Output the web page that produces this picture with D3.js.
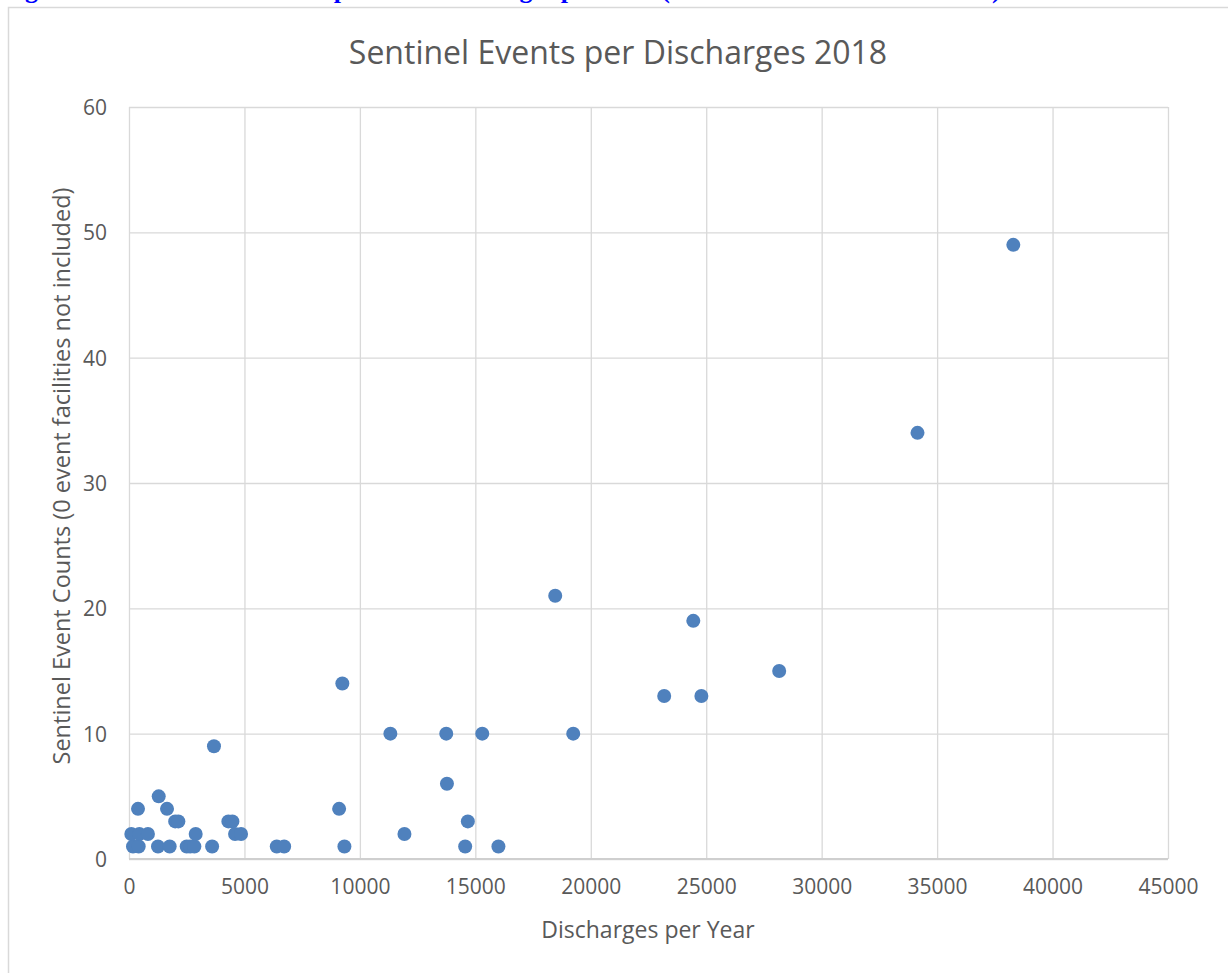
<!DOCTYPE html>
<html lang="en">
<head>
    <meta charset="UTF-8">
    <title>Sentinel Events per Discharges 2018</title>
    <script src="https://d3js.org/d3.v7.min.js"></script>
    <style>
        body {
            margin: 0;
            background-color: #ffffff;
            font-family: "Open Sans", sans-serif;
        }

        svg {
            display: block;
        }

        .grid line {
            stroke: #d9d9d9;
            stroke-width: 1.3;
        }

        .grid path {
            display: none;
        }

        .tick text {
            fill: #595959;
            font-size: 21px;
            font-family: "Open Sans", sans-serif;
        }
    </style>
</head>
<body>

<svg width="1228" height="973"></svg>

<script>
    // Data
    const discharges = [
        173, 420, 1256, 1762, 2499, 2650, 2831, 3600, 6400, 6720, 9330, 14560, 16000,
        100, 450, 820, 2888, 4593, 4853, 11930,
        2000, 2138, 4304, 4478, 14675,
        390, 1647, 9100,
        1287,
        13770,
        3680,
        11320, 13740, 15300, 19240,
        23180, 24790,
        9240,
        28160,
        24440,
        18460,
        34150,
        38300
    ];
    const events = [
        1, 1, 1, 1, 1, 1, 1, 1, 1, 1, 1, 1, 1,
        2, 2, 2, 2, 2, 2, 2,
        3, 3, 3, 3, 3,
        4, 4, 4,
        5,
        6,
        9,
        10, 10, 10, 10,
        13, 13,
        14,
        15,
        19,
        21,
        34,
        49
    ];
    const xTicks = [0, 5000, 10000, 15000, 20000, 25000, 30000, 35000, 40000, 45000];
    const yTicks = [0, 10, 20, 30, 40, 50, 60];

    const chartTitle = "Sentinel Events per Discharges 2018";
    const xTitle = "Discharges per Year";
    const yTitle = "Sentinel Event Counts (0 event facilities not included)";
    const caption = "Figure 4: Sentinel Events compared to Discharges per Year (0 event facilities not included)";

    const points = discharges.map((d, i) => ({x: d, y: events[i]}));

    const plot = {left: 129, right: 1168, top: 107, bottom: 859};

    const svg = d3.select("svg");

    // cut-off caption from the document above the chart (only descenders show)
    svg.append("text")
        .attr("x", 2)
        .attr("y", -2)
        .attr("fill", "#0000ff")
        .style("font-family", "'Liberation Serif', serif")
        .style("font-weight", "bold")
        .style("font-size", "26px")
        .text(caption);

    // chart area border
    svg.append("rect")
        .attr("x", 8.5)
        .attr("y", 7.5)
        .attr("width", 1300)
        .attr("height", 1100)
        .attr("fill", "#ffffff")
        .attr("stroke", "#d9d9d9")
        .attr("stroke-width", 1.5);

    const xScale = d3.scaleLinear()
        .domain([0, 45000])
        .range([plot.left, plot.right]);

    const yScale = d3.scaleLinear()
        .domain([0, 60])
        .range([plot.bottom, plot.top]);

    // vertical gridlines + x labels
    svg.append("g")
        .attr("class", "grid")
        .attr("transform", `translate(0, ${plot.bottom})`)
        .call(d3.axisBottom(xScale)
            .tickValues(xTicks)
            .tickFormat(d3.format("d"))
            .tickSizeInner(-(plot.bottom - plot.top))
            .tickSizeOuter(0)
            .tickPadding(20));

    // horizontal gridlines + y labels
    const yAxis = svg.append("g")
        .attr("class", "grid")
        .attr("transform", `translate(${plot.left}, 0)`)
        .call(d3.axisLeft(yScale)
            .tickValues(yTicks)
            .tickSizeInner(-(plot.right - plot.left))
            .tickSizeOuter(0)
            .tickPadding(22));

    yAxis.selectAll(".tick text").attr("dy", "0.36em");

    // bottom axis line a bit darker
    svg.append("line")
        .attr("x1", plot.left)
        .attr("x2", plot.right)
        .attr("y1", yScale(0))
        .attr("y2", yScale(0))
        .attr("stroke", "#cfcfcf")
        .attr("stroke-width", 2);

    // points
    svg.append("g")
        .selectAll("circle")
        .data(points)
        .join("circle")
        .attr("cx", d => xScale(d.x))
        .attr("cy", d => yScale(d.y))
        .attr("r", 7)
        .attr("fill", "#4f81bd");

    // titles
    svg.append("text")
        .attr("x", 618)
        .attr("y", 64)
        .attr("text-anchor", "middle")
        .attr("fill", "#595959")
        .style("font-size", "32px")
        .text(chartTitle);

    svg.append("text")
        .attr("x", 648)
        .attr("y", 938)
        .attr("text-anchor", "middle")
        .attr("fill", "#595959")
        .style("font-size", "23px")
        .text(xTitle);

    svg.append("text")
        .attr("transform", "translate(70, 476) rotate(-90)")
        .attr("text-anchor", "middle")
        .attr("fill", "#595959")
        .style("font-size", "23.5px")
        .text(yTitle);
</script>

</body>
</html>
